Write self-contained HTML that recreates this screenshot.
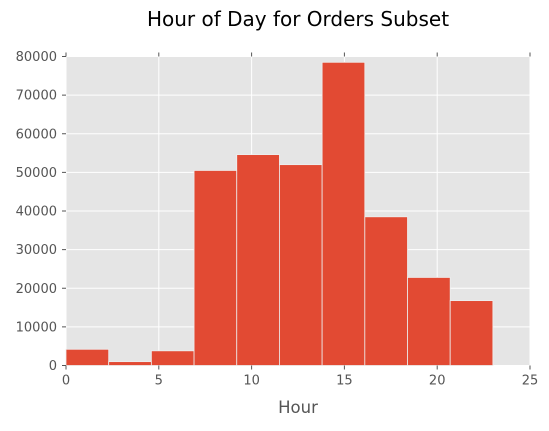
<!DOCTYPE html>
<html><head><meta charset="utf-8"><style>
body{margin:0;background:#fff;}
text{font-family:"DejaVu Sans","Liberation Sans",sans-serif;}
</style></head><body>
<svg id="chart" width="549" height="426">
<text x="298" y="26" font-size="20" text-anchor="middle" fill="#000">Hour of Day for Orders Subset</text>
<rect x="66" y="56.5" width="464" height="309" fill="#e5e5e5"/>
<g id="grid"></g><g id="bars"></g><g id="axes"></g>
<text x="298" y="413" font-size="16.5" text-anchor="middle" fill="#555">Hour</text>
</svg>
<script>
const binStart = 0, binWidth = 2.3;
const counts = [4200, 1000, 3800, 50500, 54600, 52000, 78500, 38500, 22800, 16800];
const xTicks = [0, 5, 10, 15, 20, 25];
const yTicks = [0, 10000, 20000, 30000, 40000, 50000, 60000, 70000, 80000];
const L=66,R=530,T=56.5,B=365.5;
const xs=v=>L+(v/25)*(R-L), ys=v=>B-(v/80000)*(B-T);
const ns="http://www.w3.org/2000/svg";
const mk=(p,t,a)=>{const e=document.createElementNS(ns,t);for(const k in a)e.setAttribute(k,a[k]);document.getElementById(p).appendChild(e);return e;};
xTicks.forEach(t=>{
  const g=mk('grid','line',{x1:xs(t),x2:xs(t),y1:T,y2:B,stroke:'#fff','stroke-width':1});
  
  
  const k=mk('axes','line',{x1:xs(t),x2:xs(t),y1:B,y2:B+4,stroke:'#555'});
  
  
  const k2=mk('axes','line',{x1:xs(t),x2:xs(t),y1:T,y2:T-4,stroke:'#555'});
  
  
  const l=mk('axes','text',{x:xs(t),y:B+19,'font-size':13,'text-anchor':'middle',fill:'#555'});
  l.textContent=t;
  
  
});
yTicks.forEach(t=>{
  const g=mk('grid','line',{x1:L,x2:R,y1:ys(t),y2:ys(t),stroke:'#fff','stroke-width':1});
  
  
  const k=mk('axes','line',{x1:L-4,x2:L,y1:ys(t),y2:ys(t),stroke:'#555'});
  
  
  const l=mk('axes','text',{x:L-9,y:ys(t)+4.5,'font-size':13,'text-anchor':'end',fill:'#555'});
  l.textContent=t;
  
  
});
counts.forEach((c,i)=>{
  const x0=xs(binStart+i*binWidth),x1=xs(binStart+(i+1)*binWidth);
  const r=mk('bars','rect',{x:x0,y:ys(c),width:x1-x0,height:B-ys(c),fill:'#e24a33',stroke:'#eeeeee','stroke-width':0.8});
  
  
});
</script>
</body></html>
